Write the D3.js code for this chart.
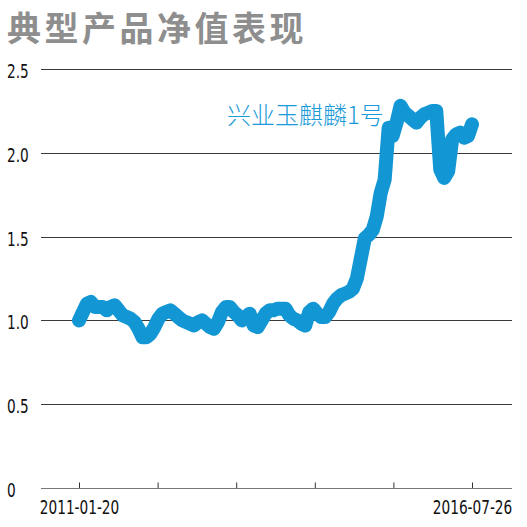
<!DOCTYPE html>
<html>
<head>
<meta charset="utf-8">
<script src="https://cdn.jsdelivr.net/npm/d3@7"></script>
<style>
  html, body { margin: 0; padding: 0; background: #fff; }
  svg { display: block; }
</style>
</head>
<body>
<svg id="chart" width="527" height="527"></svg>
<script>
const title = "典型产品净值表现";
const seriesName = "兴业玉麒麟1号";
const xTickLabels = ["2011-01-20", "", "", "", "", "2016-07-26"];
const yTicks = [0, 0.5, 1.0, 1.5, 2.0, 2.5];
const yTickLabels = ["0", "0.5", "1.0", "1.5", "2.0", "2.5"];
const navValues = [
  1.00, 1.05, 1.10, 1.11, 1.08, 1.08, 1.08, 1.06, 1.08, 1.09,
  1.06, 1.03, 1.02, 1.01, 0.99, 0.95, 0.90, 0.90, 0.92, 0.96,
  1.01, 1.04, 1.05, 1.06, 1.04, 1.02, 1.00, 0.99, 0.98, 0.97,
  0.99, 1.00, 0.98, 0.96, 0.95, 0.99, 1.05, 1.08, 1.08, 1.05,
  1.03, 1.00, 1.02, 1.04, 0.97, 0.96, 1.00, 1.04, 1.06, 1.06,
  1.07, 1.07, 1.07, 1.03, 1.01, 1.00, 0.98, 0.97, 1.05, 1.07,
  1.04, 1.02, 1.02, 1.05, 1.10, 1.13, 1.15, 1.16, 1.17, 1.19,
  1.25, 1.37, 1.49, 1.51, 1.54, 1.62, 1.76, 1.84, 2.15, 2.10,
  2.18, 2.28, 2.24, 2.22, 2.20, 2.18, 2.21, 2.23, 2.24, 2.25,
  2.25, 1.90, 1.85, 1.89, 2.08, 2.11, 2.12, 2.09, 2.10, 2.17
];

const svg = d3.select("#chart");
const gridLeft = 41, gridRight = 512;
const numFont = "'DejaVu Sans Condensed', 'Liberation Sans Narrow', sans-serif";
const hScale = 0.8;

const x = d3.scaleLinear().domain([0, navValues.length - 1]).range([79, 472]);
const y = d3.scaleLinear().domain([0, 2.5]).range([488, 69]);

// title
svg.append("text")
  .attr("x", 7).attr("y", 41)
  .attr("font-family", "'Noto Sans CJK SC', sans-serif")
  .attr("font-weight", "bold")
  .attr("font-size", 34)
  .attr("letter-spacing", 3.5)
  .attr("fill", "#8e8e8e")
  .text(title);

// grid lines
svg.append("g").selectAll("line")
  .data(yTicks.filter(d => d > 0))
  .join("line")
  .attr("x1", gridLeft).attr("x2", gridRight)
  .attr("y1", d => Math.round(y(d)) + 0.5).attr("y2", d => Math.round(y(d)) + 0.5)
  .attr("stroke", "#3a3a3a").attr("stroke-width", 1);

// y labels (horizontally condensed)
svg.append("g").selectAll("text")
  .data(yTicks)
  .join("text")
  .attr("transform", d => `translate(7, ${y(d) + 9}) scale(${hScale}, 1)`)
  .attr("font-family", numFont)
  .attr("font-size", 19)
  .attr("fill", "#111")
  .text((d, i) => yTickLabels[i]);

// x axis
const xTickIdx = d3.range(6).map(i => i * (navValues.length - 1) / 5);
const xAxis = d3.axisBottom(x)
  .tickValues(xTickIdx)
  .tickSize(0)
  .tickFormat((d, i) => xTickLabels[i]);
const gx = svg.append("g").attr("transform", `translate(0, ${Math.round(y(0)) + 0.5})`).call(xAxis);
gx.select(".domain").remove();
gx.selectAll(".tick text")
  .attr("dy", 0).attr("y", 0)
  .attr("transform", `translate(0, 25) scale(${hScale}, 1)`)
  .attr("font-family", numFont)
  .attr("font-size", 19)
  .attr("fill", "#111");
gx.selectAll(".tick line").remove();
gx.selectAll(".tick").append("line")
  .attr("x1", 0).attr("x2", 0).attr("y1", 0).attr("y2", -6)
  .attr("stroke", "#333").attr("stroke-width", 1);
gx.append("line")
  .attr("x1", gridLeft).attr("x2", gridRight)
  .attr("y1", 0).attr("y2", 0)
  .attr("stroke", "#777").attr("stroke-width", 1);

// series line
const line = d3.line()
  .x((d, i) => x(i))
  .y(d => y(d));
svg.append("path")
  .datum(navValues)
  .attr("d", line)
  .attr("fill", "none")
  .attr("stroke", "#1296d4")
  .attr("stroke-width", 14)
  .attr("stroke-linejoin", "round")
  .attr("stroke-linecap", "round");

// series label
svg.append("text")
  .attr("x", 227).attr("y", 124)
  .attr("font-family", "'Noto Sans CJK SC', sans-serif")
  .attr("font-size", 24)
  .attr("font-weight", 300)
  .attr("fill", "#1a9ad8")
  .text(seriesName);
</script>
</body>
</html>
